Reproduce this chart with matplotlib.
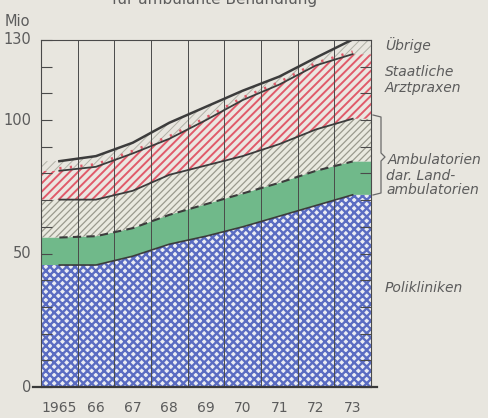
import numpy as np
import matplotlib
matplotlib.use("Agg")
import matplotlib.pyplot as plt
from matplotlib.lines import Line2D

# ---- data (Mio Fälle) ----
years = ['1965', '66', '67', '68', '69', '70', '71', '72', '73']
polikliniken = [45.7, 45.7, 49.0, 53.5, 56.5, 60.0, 64.0, 68.0, 72.0]
landambulatorien = [10.3, 10.8, 10.5, 11.0, 12.0, 12.5, 12.5, 13.0, 12.5]
ambulatorien_sonst = [14.2, 13.7, 14.0, 15.0, 14.5, 14.0, 14.5, 15.5, 16.0]
staatliche_praxen = [10.8, 12.3, 14.0, 13.5, 17.0, 21.0, 22.3, 24.0, 24.2]
uebrige = [3.6, 4.0, 4.0, 6.0, 5.0, 3.5, 3.0, 2.9, 5.5]

y_ticklabels = ['0', '50', '100', '130']

BG = '#e8e6df'
TXT = '#5c5c5c'
LINE = '#3c3c3c'
BLUE = '#5a6cc2'
GREEN = '#70b98a'
RED = '#e05a6a'
GRAY = '#9a9a8e'

W, H = 489, 418
fig = plt.figure(figsize=(W / 100, H / 100), dpi=100, facecolor=BG)
L, R, B, T = 41, 371, 387, 40
ax = fig.add_axes([L / W, 1 - B / H, (R - L) / W, (B - T) / H])
ax.set_facecolor(BG)
ax.set_xlim(0, 9)
ax.set_ylim(0, 130)

n = len(years)
x = np.arange(n) + 0.5
xe = np.concatenate([[0], x, [9]])

def ext(a):
    a = np.asarray(a, float)
    return np.concatenate([[a[0]], a, [a[-1]]])

b0 = np.zeros(n)
b1 = b0 + np.array(polikliniken)
b2 = b1 + np.array(landambulatorien)
b3 = b2 + np.array(ambulatorien_sonst)
b4 = b3 + np.array(staatliche_praxen)
b5 = b4 + np.array(uebrige)

with plt.rc_context({'hatch.linewidth': 1.7}):
    ax.fill_between(xe, ext(b0), ext(b1), facecolor='#eaecf3', edgecolor=BLUE,
                    hatch='xxxx', linewidth=0, zorder=1)
ax.fill_between(xe, ext(b1), ext(b2), facecolor=GREEN, linewidth=0, zorder=1)
with plt.rc_context({'hatch.linewidth': 0.9}):
    ax.fill_between(xe, ext(b2), ext(b3), facecolor='#e9e9df', edgecolor=GRAY,
                    hatch='/////', linewidth=0, zorder=1)
with plt.rc_context({'hatch.linewidth': 1.4}):
    ax.fill_between(xe, ext(b3), ext(b4), facecolor='#ebe6e1', edgecolor=RED,
                    hatch='////', linewidth=0, zorder=1)
with plt.rc_context({'hatch.linewidth': 0.7}):
    ax.fill_between(xe, ext(b4), ext(b5), facecolor=BG, edgecolor='#b0b0a6',
                    hatch='////', linewidth=0, zorder=1)

# boundary lines
ax.plot(x, b1, color=LINE, lw=1.2, zorder=4)
ax.plot(x, b2, color=LINE, lw=1.5, ls=(0, (4, 2.5)), zorder=4)
ax.plot(x, b3, color=LINE, lw=1.3, zorder=4)
ax.plot(x, b4 + 0.9, color=RED, lw=2.0, ls=(0, (0.8, 3)), zorder=3)
ax.plot(x, b4, color=LINE, lw=1.3, zorder=4)
ax.plot(x, b5, color=LINE, lw=1.8, zorder=4)

# vertical grid
for gx in range(1, 9):
    ax.axvline(gx, color='#4a4a4a', lw=0.7, zorder=3)

for s in ['left', 'right', 'top']:
    ax.spines[s].set_color('#4a4a4a')
    ax.spines[s].set_linewidth(0.8)
    ax.spines[s].set_zorder(5)
ax.spines['bottom'].set_visible(False)
ax.plot([-0.22, 9.16], [0, 0], color='#3a3a3a', lw=1.6, clip_on=False, zorder=6)

# ticks
ax.set_xticks(x)
ax.set_xticklabels(years, fontsize=10, color=TXT)
ax.tick_params(axis='x', length=0, pad=10)
ax.set_yticks(np.arange(0, 131, 10))
ax.set_yticklabels([])
ax.tick_params(axis='y', which='both', direction='in', length=8, width=0.8,
               color='#4a4a4a', right=True)
for v, lab in zip([0, 50, 100, 130], y_ticklabels):
    ax.text(-0.26, v, lab, ha='right', va='center', fontsize=10.5, color=TXT,
            transform=ax.transData, clip_on=False)

# texts in figure pixel coordinates
def ftext(px, py, s, **kw):
    fig.text(px / W, 1 - py / H, s, color=TXT, **kw)

ftext(215, 7, 'für ambulante Behandlung', ha='center', va='bottom', fontsize=11)
ftext(5, 21, 'Mio', ha='left', va='center', fontsize=10.5)
ftext(385, 45, 'Übrige', ha='left', va='center', fontsize=10, style='italic')
ftext(385, 72, 'Staatliche', ha='left', va='center', fontsize=10, style='italic')
ftext(385, 88, 'Arztpraxen', ha='left', va='center', fontsize=10, style='italic')
ftext(388, 160, 'Ambulatorien', ha='left', va='center', fontsize=10, style='italic')
ftext(386, 176, 'dar. Land-', ha='left', va='center', fontsize=10, style='italic')
ftext(386, 190, 'ambulatorien', ha='left', va='center', fontsize=10, style='italic')
ftext(385, 288, 'Polikliniken', ha='left', va='center', fontsize=10, style='italic')

# bracket
bx = [373, 381, 381, 385, 381, 381, 373]
by = [115, 117, 153, 157, 161, 193, 195]
fig.add_artist(Line2D([p / W for p in bx], [1 - p / H for p in by],
                      transform=fig.transFigure, color='#6a6a6a', lw=0.9))

fig.savefig('out.png', dpi=100, facecolor=BG)
